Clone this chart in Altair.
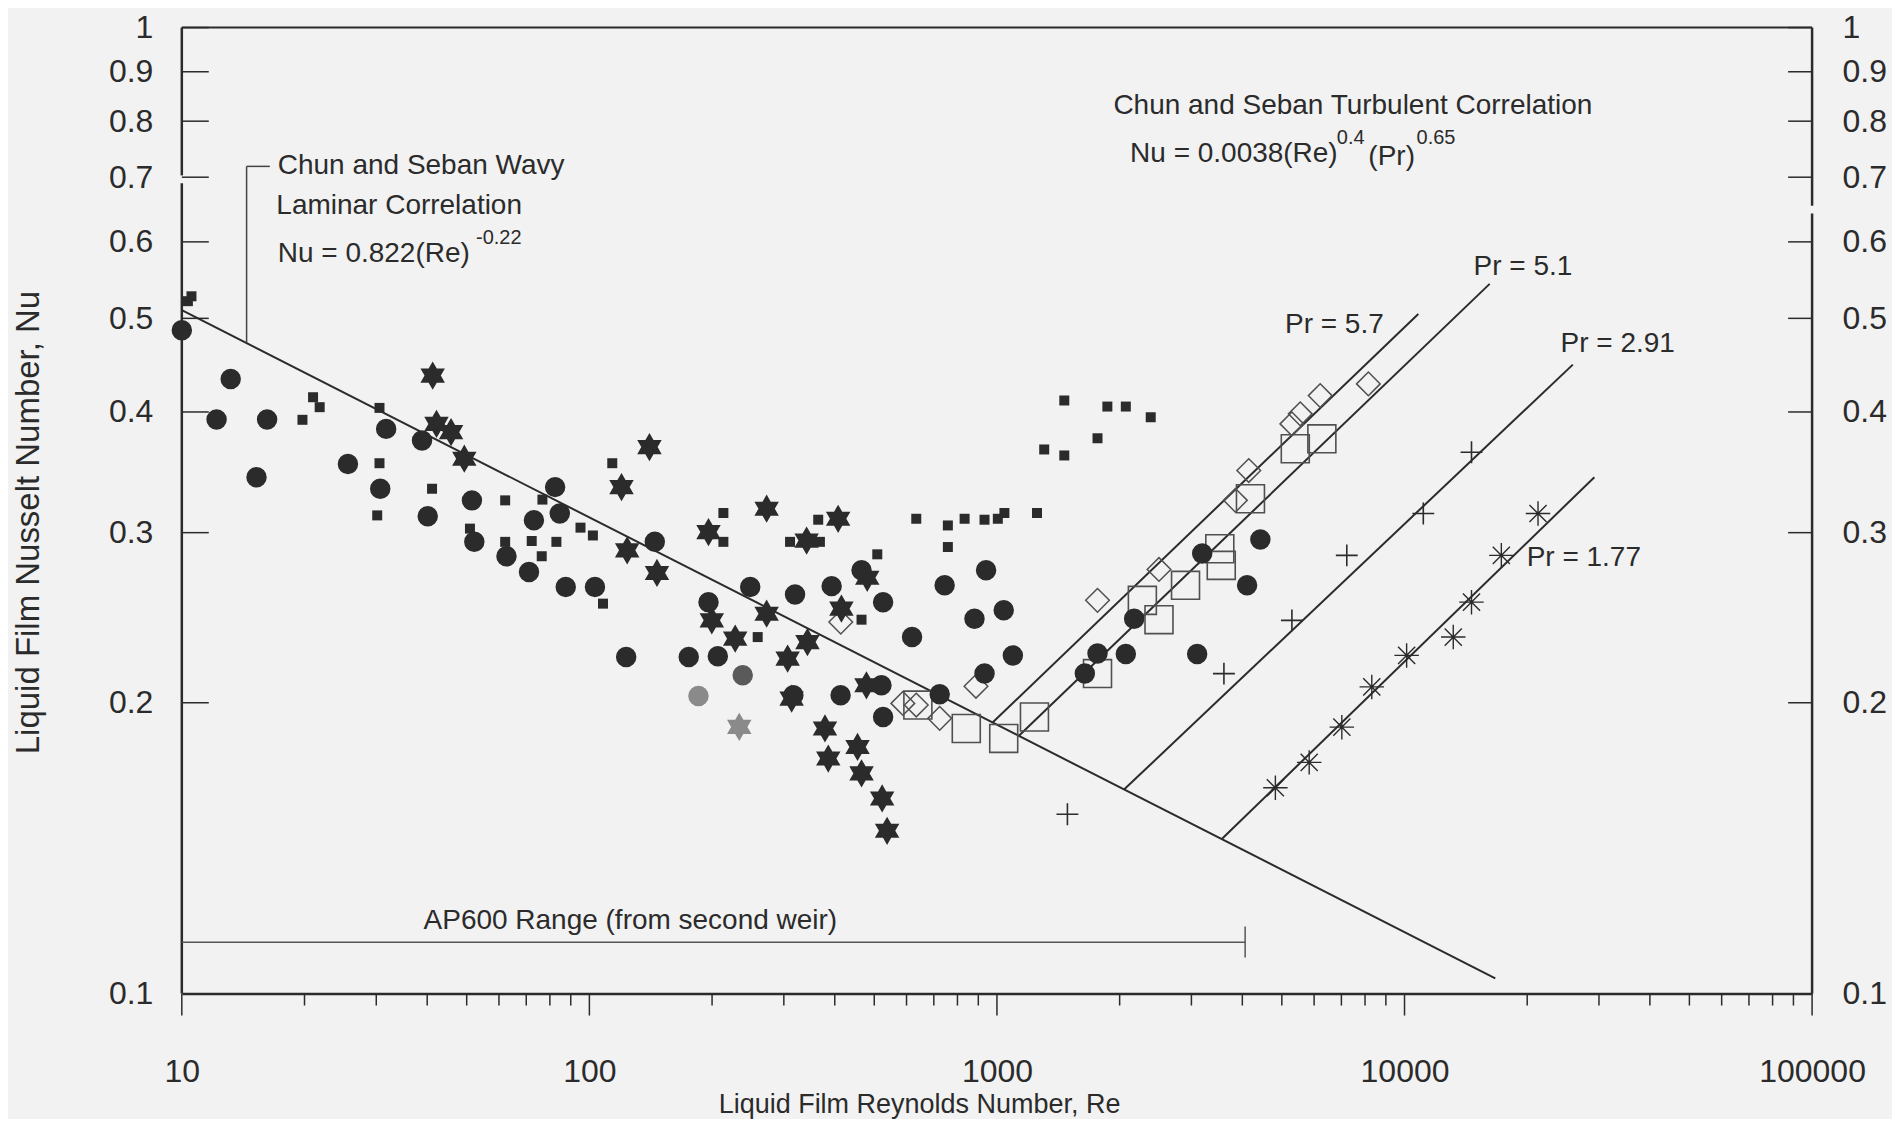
import altair as alt
import pandas as pd

# ---------------- data ----------------
# filled circles
circ_re = [10, 13.18, 12.17, 16.19, 15.25, 25.56, 31.72, 30.68, 38.85, 40.12, 51.5, 52.2, 62.6, 73.1,
           82.4, 84.6, 71.1, 87.5, 103.2, 123.1, 144.7, 196.0, 248.1, 319.6, 393.0, 465.3, 525.6,
           175.3, 206.6, 316.6, 413.4, 520.7, 525.6, 619.0, 744.1, 940.4, 880.8, 1039, 1094, 932.2,
           723.7, 4429, 4109, 3189, 2171, 1765, 2071, 3099, 1643]
circ_nu = [0.486, 0.4328, 0.3928, 0.3928, 0.3424, 0.3534, 0.3842, 0.3331, 0.3737, 0.3119, 0.3240,
           0.2935, 0.2836, 0.309, 0.3344, 0.3140, 0.2732, 0.2635, 0.2635, 0.2230, 0.2935, 0.2542,
           0.2635, 0.2589, 0.2641, 0.2743, 0.2542, 0.2230, 0.2234, 0.2036, 0.2036, 0.2085, 0.1933,
           0.2339, 0.2646, 0.2743, 0.2444, 0.2493, 0.2239, 0.2144, 0.2041, 0.2951, 0.2646, 0.2854,
           0.2444, 0.2249, 0.2247, 0.2247, 0.2144]
# faded circles
gcirc_re = [185.2, 237.8]
gcirc_nu = [0.2032, 0.2136]
# small filled squares
sq_re = [10.35, 10.56, 19.77, 20.99, 21.79, 30.55, 30.55, 30.16, 41.11, 50.93, 62.14, 62.14, 76.7,
         72.2, 76.4, 83.0, 95.1, 102.0, 108.0, 113.8, 213.2, 213.2, 258.8, 508.6, 465.3, 633.9,
         757.8, 757.8, 833.0, 932.2, 1005, 1043, 1254, 310.7, 367.8, 364.3, 1463, 1866, 2071,
         2384, 1765, 1306, 1463]
sq_nu = [0.5209, 0.5270, 0.3926, 0.4143, 0.4046, 0.4039, 0.3540, 0.3126, 0.3331, 0.3029, 0.3240,
         0.2935, 0.3246, 0.2941, 0.2836, 0.2935, 0.3036, 0.2980, 0.2533, 0.3540, 0.3144, 0.2935,
         0.2339, 0.2849, 0.2438, 0.3101, 0.3052, 0.2899, 0.3101, 0.3094, 0.3101, 0.3144, 0.3144,
         0.2935, 0.2935, 0.3094, 0.4111, 0.4052, 0.4052, 0.3950, 0.3757, 0.3658, 0.3606]
# six-pointed stars
st_re = [41.26, 42.16, 45.77, 49.33, 119.9, 123.8, 140.4, 272.2, 196.0, 407.7, 341.2, 146.5, 480.6,
         415.3, 272.2, 199.7, 227.9, 342.8, 306.5, 313.5, 478.4, 378.5, 385.6, 454.9, 465.3, 522.8,
         537.6]
st_nu = [0.4362, 0.3888, 0.3812, 0.3578, 0.3344, 0.2876, 0.3679, 0.3176, 0.3004, 0.3101, 0.2944,
         0.2725, 0.2694, 0.2503, 0.2473, 0.2434, 0.2330, 0.2311, 0.2222, 0.2020, 0.2085, 0.1881,
         0.1751, 0.1800, 0.1690, 0.1592, 0.1474]
gst_re = [233.2]
gst_nu = [0.1888]
# open diamonds
dm_re = [413.8, 587.7, 633.9, 723.7, 888.3, 1765, 2498, 3847, 4148, 5293, 5548, 6210, 8153]
dm_nu = [0.2424, 0.1997, 0.1989, 0.1927, 0.2080, 0.2553, 0.2748, 0.3240, 0.3479, 0.3888, 0.3982,
         0.4159, 0.4277]
# open squares
os_re = [639.7, 840.9, 1039, 1236, 2274, 2498, 2902, 3522, 3551, 4188, 5395, 6269, 1765]
os_nu = [0.1989, 0.1881, 0.1837, 0.1933, 0.2553, 0.2438, 0.2646, 0.2887, 0.2775, 0.3253, 0.3664,
         0.3752, 0.2144]
# plus signs
pl_re = [1489, 3605, 5293, 7217, 11120, 14600]
pl_nu = [0.1533, 0.2144, 0.2434, 0.2842, 0.3140, 0.3634]
# asterisks
as_re = [4821, 5836, 7018, 8312, 10120, 13170, 14600, 17280, 21260]
as_nu = [0.1633, 0.1735, 0.1887, 0.2077, 0.2239, 0.2339, 0.2542, 0.2842, 0.3140]

# correlation lines (endpoints): laminar, Pr=5.7, 5.1, 2.91, 1.77
ln_re1 = [10, 977, 1132, 2053, 3567]
ln_nu1 = [0.510, 0.1909, 0.1849, 0.1627, 0.1446]
ln_re2 = [16700, 10810, 16180, 25880, 29230]
ln_nu2 = [0.1037, 0.5052, 0.5428, 0.4478, 0.3424]

# leader of the laminar label and AP600 range bar
lead_re1 = [14.42, 14.42]
lead_nu1 = [0.4716, 0.7183]
lead_re2 = [14.42, 16.44]
lead_nu2 = [0.7183, 0.7183]
ap_re1 = [10, 4064]
ap_nu1 = [0.113, 0.1173]
ap_re2 = [4064, 4064]
ap_nu2 = [0.113, 0.109]

# annotation texts
ann_text = ["Chun and Seban Wavy", "Laminar Correlation", "Nu = 0.822(Re)",
            "Chun and Seban Turbulent Correlation", "Nu = 0.0038(Re)", "(Pr)",
            "Pr = 5.7", "Pr = 5.1", "Pr = 2.91", "Pr = 1.77", "AP600 Range (from second weir)"]
ann_re = [17.2, 17.06, 17.2, 1931, 2122, 8153, 5090, 14770, 24150, 19940, 39.2]
ann_nu = [0.7183, 0.654, 0.583, 0.8296, 0.7396, 0.7337, 0.4917, 0.5648, 0.4709, 0.2826, 0.119]
sup_text = ["-0.22", "0.4", "0.65"]
sup_re = [52.7, 6823, 10705]
sup_nu = [0.6053, 0.7685, 0.7685]

# axes
x_major = [10, 100, 1000, 10000, 100000]
x_minor = [20, 30, 40, 50, 60, 70, 80, 90, 200, 300, 400, 500, 600, 700, 800, 900,
           2000, 3000, 4000, 5000, 6000, 7000, 8000, 9000, 20000, 30000, 40000, 50000,
           60000, 70000, 80000, 90000]
y_labels = [0.1, 0.2, 0.3, 0.4, 0.5, 0.6, 0.7, 0.8, 0.9, 1.0]
y_inner_ticks = [0.2, 0.3, 0.4, 0.5, 0.6, 0.7, 0.8, 0.9, 1.0]
left_line_lo = [0.1, 0.703]
left_line_hi = [0.69, 1.0]
right_line_lo = [0.1, 0.654]
right_line_hi = [0.642, 1.0]
x_title = "Liquid Film Reynolds Number,  Re"
y_title = "Liquid Film Nusselt Number, Nu"

# ---------------- chart ----------------
W, H = 1632, 967
FONT = "Liberation Sans"
INK = "#2b2b2b"

xs = alt.Scale(type="log", domain=[10, 100000], nice=False)
ys = alt.Scale(type="log", domain=[0.1, 1], nice=False)


def X(f="Re"):
    return alt.X(f"{f}:Q", scale=xs, axis=None)


def Y(f="Nu"):
    return alt.Y(f"{f}:Q", scale=ys, axis=None)


def segs(re1, nu1, re2, nu2, width=2.0, color=INK):
    df = pd.DataFrame({"Re": re1, "Nu": nu1, "Re2": re2, "Nu2": nu2})
    return alt.Chart(df).mark_rule(color=color, strokeWidth=width).encode(
        x=X(), y=Y(), x2="Re2:Q", y2="Nu2:Q")


def points(re, nu, shape, size, filled, color, sw=1.6):
    df = pd.DataFrame({"Re": re, "Nu": nu})
    return alt.Chart(df).mark_point(shape=shape, size=size, filled=filled, color=color,
                                    strokeWidth=sw, opacity=1).encode(x=X(), y=Y())


def texts(labels, re, nu, size, font=FONT):
    df = pd.DataFrame({"Re": re, "Nu": nu, "t": labels})
    return alt.Chart(df).mark_text(align="left", baseline="middle", font=font, fontSize=size,
                                   color=INK).encode(x=X(), y=Y(), text="t:N")


STAR = ("M0,-1L0.289,-0.5L0.866,-0.5L0.577,0L0.866,0.5L0.289,0.5L0,1L-0.289,0.5"
        "L-0.866,0.5L-0.577,0L-0.866,-0.5L-0.289,-0.5Z")
PLUS = "M-1,0L1,0M0,-1L0,1"
ASTER = "M-1,0L1,0M0,-1L0,1M-0.7,-0.7L0.7,0.7M-0.7,0.7L0.7,-0.7"

# axis-carrying layers
x_axis_layer = alt.Chart(pd.DataFrame({"Re": x_major})).mark_rule(color=INK, strokeWidth=1.5).encode(
    x=alt.X("Re:Q", scale=xs, axis=alt.Axis(
        orient="bottom", values=x_major, format="d", ticks=False, grid=False,
        domain=True, domainColor=INK, domainWidth=2.5,
        labelFont=FONT, labelFontSize=32, labelColor=INK, labelPadding=78,
        labelBaseline="middle", labelFlush=False, labelOverlap=False,
        title=x_title, titleFont=FONT, titleFontSize=27, titleFontWeight="normal",
        titleColor=INK, titleX=738, titleY=111, titleAlign="center", titleBaseline="middle")),
    y=alt.value(H), y2=alt.value(H + 22))

x_minor_layer = alt.Chart(pd.DataFrame({"Re": x_minor})).mark_rule(color=INK, strokeWidth=1.5).encode(
    x=X(), y=alt.value(H), y2=alt.value(H + 12))

left_axis_layer = alt.Chart(pd.DataFrame({"Nu": y_inner_ticks})).mark_rule(color=INK, strokeWidth=1.5).encode(
    y=alt.Y("Nu:Q", scale=ys, axis=alt.Axis(
        orient="left", values=y_labels, format="~g", ticks=False, grid=False, domain=False,
        labelFont=FONT, labelFontSize=32, labelColor=INK, labelPadding=29,
        labelFlush=False, labelOverlap=False,
        title=y_title, titleFont=FONT, titleFontSize=33, titleFontWeight="normal",
        titleColor=INK, titleX=-153, titleY=495, titleAngle=270,
        titleAlign="center", titleBaseline="middle")),
    x=alt.value(0), x2=alt.value(27))

right_axis_layer = alt.Chart(pd.DataFrame({"Nu": y_inner_ticks})).mark_rule(color=INK, strokeWidth=1.5).encode(
    y=alt.Y("Nu:Q", scale=ys, axis=alt.Axis(
        orient="right", values=y_labels, format="~g", ticks=False, grid=False, domain=False,
        labelFont=FONT, labelFontSize=32, labelColor=INK, labelPadding=30,
        labelFlush=False, labelOverlap=False, title=None)),
    x=alt.value(W - 24), x2=alt.value(W))

left_line = alt.Chart(pd.DataFrame({"Nu": left_line_lo, "Nu2": left_line_hi})).mark_rule(
    color=INK, strokeWidth=2.5).encode(y=Y(), y2="Nu2:Q", x=alt.value(0))
right_line = alt.Chart(pd.DataFrame({"Nu": right_line_lo, "Nu2": right_line_hi})).mark_rule(
    color=INK, strokeWidth=2.5).encode(y=Y(), y2="Nu2:Q", x=alt.value(W))
top_line = alt.Chart(pd.DataFrame({"Nu": [1.0]})).mark_rule(color=INK, strokeWidth=2).encode(
    y=Y(), x=alt.value(0), x2=alt.value(W))

layers = [
    x_minor_layer, x_axis_layer, left_axis_layer, right_axis_layer,
    left_line, right_line, top_line,
    segs(ln_re1, ln_nu1, ln_re2, ln_nu2, 2.0),
    segs(lead_re1, lead_nu1, lead_re2, lead_nu2, 1.5, "#444"),
    segs(ap_re1, ap_nu1, ap_re2, ap_nu2, 1.5, "#555"),
    points(os_re, os_nu, "square", 784, False, "#505050", 1.6),
    points(dm_re, dm_nu, "diamond", 560, False, "#505050", 1.5),
    points(circ_re, circ_nu, "circle", 420, True, INK),
    points(gcirc_re[:1], gcirc_nu[:1], "circle", 420, True, "#8a8a8a"),
    points(gcirc_re[1:], gcirc_nu[1:], "circle", 420, True, "#5a5a5a"),
    points(sq_re, sq_nu, "square", 100, True, INK),
    points(st_re, st_nu, STAR, 800, True, INK),
    points(gst_re, gst_nu, STAR, 800, True, "#8a8a8a"),
    points(pl_re, pl_nu, PLUS, 480, False, INK, 1.6),
    points(as_re, as_nu, ASTER, 600, False, INK, 1.4),
    texts(ann_text, ann_re, ann_nu, 28),
    texts(sup_text, sup_re, sup_nu, 20),
]

chart = alt.layer(*layers).resolve_axis(x="independent", y="independent").properties(
    width=W, height=H,
    autosize=alt.AutoSizeParams(type="none"),
    padding={"left": 174, "top": 19, "right": 80, "bottom": 125},
).configure(background="#f2f2f2").configure_view(stroke=None)

chart.save("out.html", embed_options={"renderer": "svg", "actions": False})
